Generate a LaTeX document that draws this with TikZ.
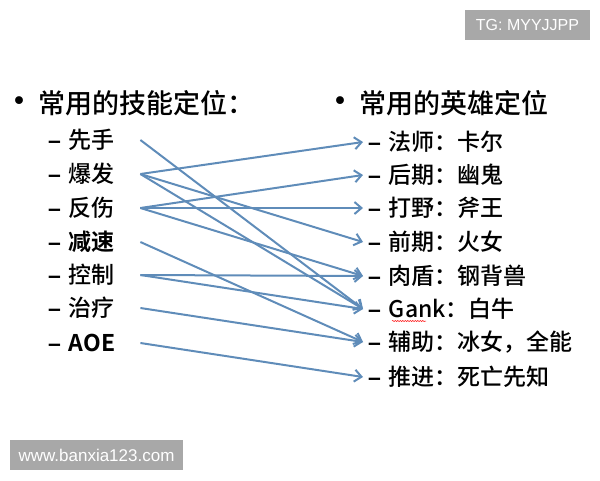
\documentclass[tikz,border=0pt]{standalone}
\usepackage{fontspec}
\setmainfont{Noto Sans CJK SC}[UprightFont={* Medium},BoldFont={* Bold}]
\newfontfamily\wmfont{Liberation Sans}
\usepackage{tikz}
\usetikzlibrary{arrows.meta}
\usetikzlibrary{decorations.pathmorphing}
\definecolor{linkblue}{RGB}{95,140,185}
\definecolor{wmgray}{RGB}{168,168,168}
\newcommand{\itemdash}{{\wmfont\bfseries –}\hspace{8pt}}
\tikzset{skill/.style={anchor=west,text width=90pt,inner sep=2pt,text height=19pt,text depth=3pt,font=\fontsize{23}{23}\selectfont}}
\tikzset{hero/.style={anchor=west,inner sep=2pt,text height=19pt,text depth=3pt,font=\fontsize{23}{23}\selectfont}}
\tikzset{head/.style={anchor=west,inner sep=0pt,font=\fontsize{27}{27}\selectfont}}
\tikzset{link/.style={linkblue,line width=2pt,-{Straight Barb[length=7pt,width=12pt]}}}
\tikzset{wmbox/.style={fill=wmgray,text=white,inner sep=0pt,font=\wmfont\fontsize{16}{16}\selectfont}}

\begin{document}
\begin{tikzpicture}[x=1pt,y=-1pt]
\useasboundingbox (0,0) rectangle (600,480);
% headings
\node[head] (lhead) at (2,103) {{\fontsize{34}{34}\selectfont •}\hspace{2pt}常用的技能定位：};
\node[head] (rhead) at (323,103) {{\fontsize{34}{34}\selectfont •}\hspace{2pt}常用的英雄定位};
% skills
\foreach \n/\y/\t in {1/140/先手,2/174/爆发,3/208/反伤,4/242/{\bfseries 减速},5/275/控制,6/308/治疗,7/343/{\bfseries AOE}}
  \node[skill] (s\n) at (46,\y) {\itemdash\t};
% heroes
\foreach \n/\y/\t in {1/142/法师：卡尔,2/175/后期：幽鬼,3/208/打野：斧王,4/242/前期：火女,5/276/肉盾：钢背兽,6/309/Gank：白牛,7/342/辅助：冰女，全能,8/377/推进：死亡先知}
  \node[hero] (h\n) at (363,\y) {\hspace{3pt}\itemdash\t};
%\draw[red] (392,319) -- (426,319);
\draw[red,line width=0.5pt,decorate,decoration={snake,segment length=2.5pt,amplitude=0.6pt}] (392,321) -- (426,321);
% links
\foreach \a/\b in {1/6,2/1,2/4,2/6,3/2,3/3,3/5,4/7,5/5,5/6,6/7,7/8}
  \draw[link] (s\a.east) -- (h\b.west);
% watermarks
\node[wmbox,minimum width=125pt,minimum height=30pt] (tg) at (527.5,25) {TG: MYYJJPP};
\node[wmbox,minimum width=173pt,minimum height=30pt,font=\wmfont\fontsize{17}{17}\selectfont] (site) at (96.5,455) {www.banxia123.com};
\end{tikzpicture}
\end{document}
